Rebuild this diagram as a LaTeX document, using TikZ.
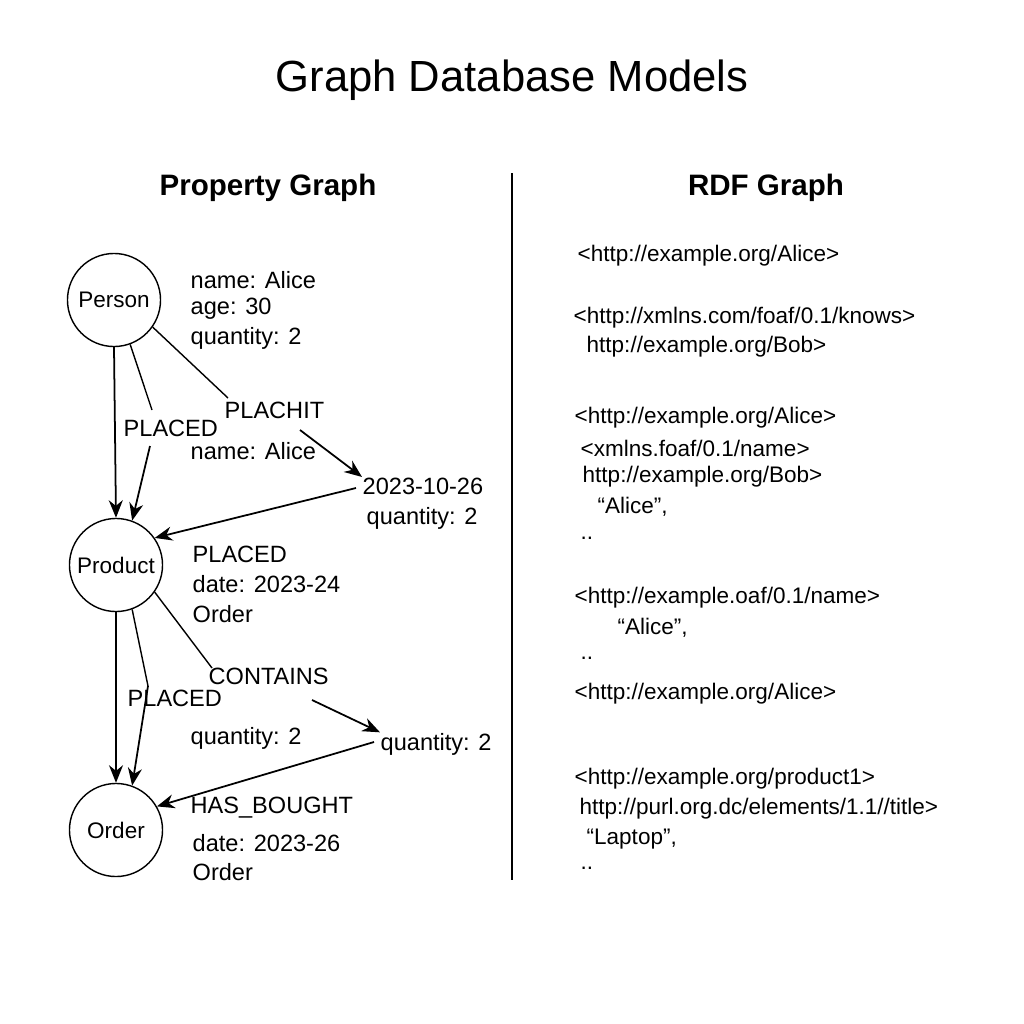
\documentclass[tikz,border=0pt]{standalone}
\usepackage{fontspec}
\setmainfont{Liberation Sans}
\usetikzlibrary{arrows.meta}
\tikzset{
  ent/.style={draw, circle, minimum size=0.93cm, inner sep=0pt, font=\fontsize{6.4}{7}\selectfont},
  txt/.style={anchor=west, inner sep=0pt, font=\fontsize{6.7}{8}\selectfont},
  rdf/.style={anchor=west, inner sep=0pt, font=\fontsize{6.4}{8}\selectfont},
  head/.style={font=\fontsize{8.4}{10}\selectfont\bfseries},
  edge/.style={-{Stealth[length=5pt,width=4pt]}, line width=0.5pt}
}
\begin{document}
\begin{tikzpicture}[x=0.01cm, y=-0.01cm]
\useasboundingbox (0,0) rectangle (1024,1024);
\node (title) at (512,80) {\fontsize{12.4}{14}\selectfont Graph Database Models};
\node[head] (pg) at (268,188) {Property Graph};
\node[head] (rg) at (766,188) {RDF Graph};
\coordinate (d1) at (512,173);
\coordinate (d2) at (512,880);
\draw[line width=0.8pt] (d1) -- (d2);

\node[ent] (person) at (114,300) {Person};
\node[ent] (product) at (116,565) {Product};
\node[ent] (order) at (116,830) {Order};

\node[txt] (n1) at (190,280) {name: Alice};
\node[txt] (n2) at (190,309) {age: 30};
\node[txt] (n3) at (190,338) {quantity: 2};
\node[txt] (e1) at (224,410) {PLACHIT};
\node[txt] (e2) at (123,428) {PLACED};
\node[txt] (n4) at (190,451) {name: Alice};
\node[txt] (n5) at (362,486) {2023-10-26};
\node[txt] (n6) at (366,518) {quantity: 2};
\node[txt] (n7) at (192,554) {PLACED};
\node[txt] (n8) at (192,584) {date: 2023-24};
\node[txt] (n9) at (192,614) {Order};
\node[txt] (e3) at (208,676) {CONTAINS};
\node[txt] (e4) at (127,698) {PLACED};
\node[txt] (n10) at (190,738) {quantity: 2};
\node[txt] (n11) at (380,744) {quantity: 2};
\node[txt] (n12) at (190,808) {HAS\_BOUGHT};
\node[txt] (n13) at (192,843) {date: 2023-26};
\node[txt] (n14) at (192,872) {Order};

% person -> product
\coordinate (p1) at (152,410);
\coordinate (p2) at (150,446);
\coordinate (p3) at (228,398);
\coordinate (p4) at (300,430);
\coordinate (p5) at (356,488);
\draw[edge] (person.south) -- (product.north);
\draw (person.-70) -- (p1);
\draw[edge] (p2) -- (product.70);
\draw (person.-35) -- (p3);
\draw[edge] (p4) -- (n5.north west);
\draw[edge] (p5) -- (product.35);

% product -> order
\coordinate (q1) at (148,686);
\coordinate (q3) at (212,668);
\coordinate (q4) at (312,700);
\coordinate (q5) at (374,742);
\draw[edge] (product.south) -- (order.north);
\draw (product.-70) -- (q1);
\draw[edge] (q1) -- (order.70);
\draw (product.-35) -- (q3);
\draw[edge] (q4) -- (n11.north west);
\draw[edge] (q5) -- (order.30);

\node[rdf] (r1) at (577,256) {<http://example.org/Alice>};
\node[rdf] (r2) at (573,318) {<http://xmlns.com/foaf/0.1/knows>};
\node[rdf] (r3) at (586,347) {http://example.org/Bob>};
\node[rdf] (r4) at (574,418) {<http://example.org/Alice>};
\node[rdf] (r5) at (580,448) {<xmlns.foaf/0.1/name>};
\node[rdf] (r6) at (582,477) {http://example.org/Bob>};
\node[rdf] (r7) at (597,507) {“Alice”,};
\node[rdf] (r8) at (580,538) {..};
\node[rdf] (r9) at (574,598) {<http://example.oaf/0.1/name>};
\node[rdf] (r10) at (617,628) {“Alice”,};
\node[rdf] (r11) at (580,658) {..};
\node[rdf] (r12) at (574,694) {<http://example.org/Alice>};
\node[rdf] (r13) at (574,779) {<http://example.org/product1>};
\node[rdf] (r14) at (579,809) {http://purl.org.dc/elements/1.1//title>};
\node[rdf] (r15) at (586,839) {“Laptop”,};
\node[rdf] (r16) at (580,868) {..};
\end{tikzpicture}
\end{document}
